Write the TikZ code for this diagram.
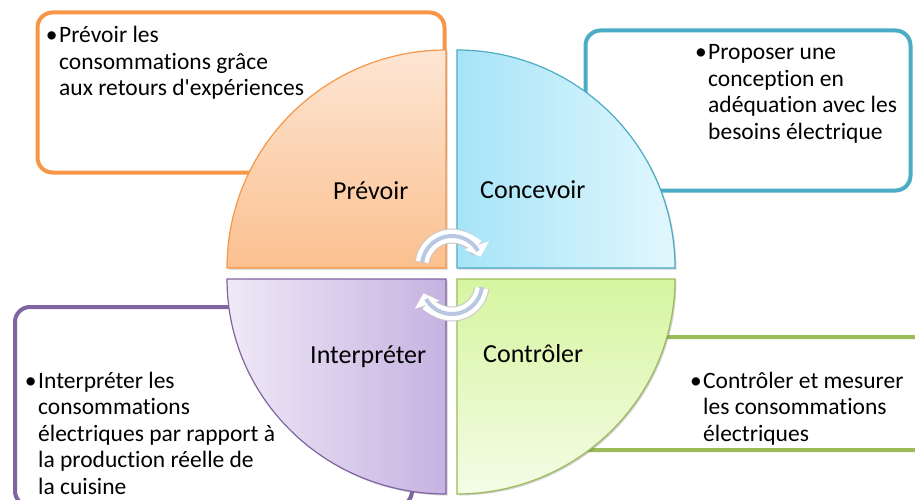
\documentclass[tikz,border=0pt]{standalone}
\usepackage{fontspec}
\setmainfont{Carlito}[Ligatures={NoCommon,TeXOff}]
\usetikzlibrary{shadows,arrows.meta}
\definecolor{oline}{HTML}{F79646}
\definecolor{cline}{HTML}{4BACC6}
\definecolor{gline}{HTML}{9BBB59}
\definecolor{pline}{HTML}{8064A2}
\definecolor{olight}{HTML}{FDE6D4}
\definecolor{odark}{HTML}{FBC08F}
\definecolor{clight}{HTML}{E2F7FD}
\definecolor{cdark}{HTML}{A6E4F8}
\definecolor{glight}{HTML}{F4FCE6}
\definecolor{gdark}{HTML}{D6F5A0}
\definecolor{plight}{HTML}{EFE9F7}
\definecolor{pdark}{HTML}{C6B2E1}
\definecolor{arrowcore}{HTML}{B8C8E3}
\tikzset{
  outbox/.style={line width=4pt, rounded corners=15pt, fill=white},
  quad/.style={line width=1.2pt, drop shadow={shadow xshift=1.5pt, shadow yshift=-1.5pt, opacity=0.3, fill=black!60}},
  bullettext/.style={anchor=base west, inner sep=0pt, align=left, font=\fontsize{23.5}{26.5}\selectfont},
  label/.style={anchor=base west, inner sep=0pt, font=\fontsize{26}{30}\selectfont},
  arrowshadow/.style={line width=15pt, draw=black!22},
  arrowwhite/.style={line width=13pt, draw=white},
  arrowinner/.style={line width=4pt, draw=arrowcore},
}
\begin{document}
\begin{tikzpicture}[x=1pt,y=1pt]
\useasboundingbox (0,0) rectangle (915,499);
\fill[white] (0,0) rectangle (915,499);
% outer boxes
\draw[outbox, draw=oline] (37.5,486.5) rectangle (444.5,326.5);
\draw[outbox, draw=cline] (585.5,468.5) rectangle (910.5,308.5);
\draw[outbox, draw=gline] (480,162) rectangle (940,49);
\draw[outbox, draw=pline] (15,192) rectangle (412,-7);
% box texts (anchored at the baseline of their last line)
\node[bullettext] (tprev) at (59,403) {\llap{•\hspace{1.5pt}}Prévoir les\\consommations grâce\\aux retours d'expériences};
\node[bullettext] (tconc) at (708,359.5) {\llap{•\hspace{1.5pt}}Proposer une\\conception en\\adéquation avec les\\besoins électrique};
\node[bullettext] (tctrl) at (703,58) {\llap{•\hspace{1.5pt}}Contrôler et mesurer\\les consommations\\électriques};
\node[bullettext] (tinter) at (38,5) {\llap{•\hspace{1.5pt}}Interpréter les\\consommations\\électriques par rapport à\\la production réelle de\\la cuisine};
% quadrants
\draw[quad, draw=oline, top color=olight, bottom color=odark]
  (446,231) -- (227,231) arc[start angle=180, end angle=90, x radius=219, y radius=218] -- cycle;
\draw[quad, draw=cline, left color=cdark, right color=clight]
  (457,231) -- (457,449) arc[start angle=90, end angle=0, x radius=218, y radius=218] -- cycle;
\draw[quad, draw=pline, left color=plight, right color=pdark]
  (446,220) -- (227,220) arc[start angle=180, end angle=270, x radius=219, y radius=215] -- cycle;
\draw[quad, draw=gline, top color=gdark, bottom color=glight]
  (457,220) -- (457,5) arc[start angle=270, end angle=360, x radius=218, y radius=215] -- cycle;
% labels
\node[label] (lprev) at (333,300) {Prévoir};
\node[label] (lconc) at (480,301) {Concevoir};
\node[label] (linter) at (310,136) {Interpréter};
\node[label] (lctrl) at (483,137) {Contrôler};
% cycle arrows
\coordinate (ctop) at (452,233);
\coordinate (cbot) at (452,215);
\draw[arrowshadow] ([shift={(172:30)}]ctop) arc[start angle=172, end angle=28, radius=30];
\draw[arrowwhite, -{Triangle[width=25pt,length=12pt,fill=white]}] ([shift={(172:30)}]ctop) arc[start angle=172, end angle=18, radius=30];
\draw[arrowinner] ([shift={(174:30)}]ctop) arc[start angle=174, end angle=30, radius=30];
\draw[arrowshadow] ([shift={(-8:30)}]cbot) arc[start angle=-8, end angle=-152, radius=30];
\draw[arrowwhite, -{Triangle[width=25pt,length=12pt,fill=white]}] ([shift={(-8:30)}]cbot) arc[start angle=-8, end angle=-162, radius=30];
\draw[arrowinner] ([shift={(-6:30)}]cbot) arc[start angle=-6, end angle=-150, radius=30];
\end{tikzpicture}
\end{document}
